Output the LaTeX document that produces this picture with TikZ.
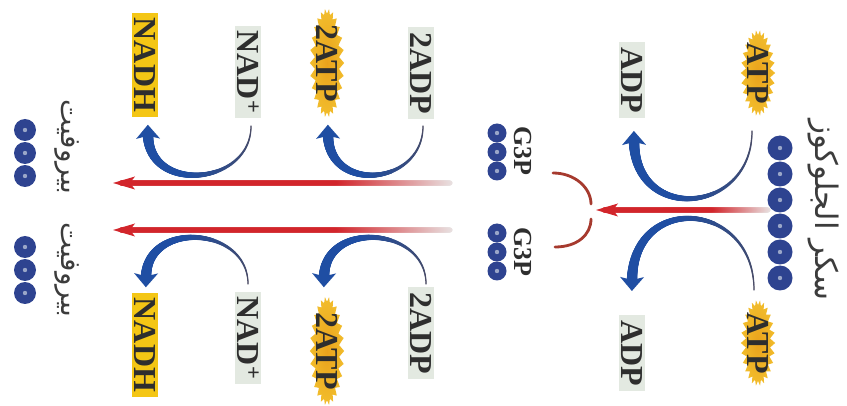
\documentclass[tikz,border=0pt]{standalone}
\usepackage{fontspec}
\setmainfont{Liberation Serif}
\newfontfamily\arabicfont[Script=Arabic]{DejaVu Sans}
\TeXXeTstate=1
\usetikzlibrary{shapes.symbols,decorations.markings}
\definecolor{txtgray}{HTML}{2E2E2E}
\definecolor{boxgray}{HTML}{E3E9E1}
\definecolor{nadhyel}{HTML}{F4C615}
\definecolor{stargold}{HTML}{F2BD2C}
\definecolor{starcore}{HTML}{E9A21C}
\definecolor{arcblue}{HTML}{1F4EA3}
\definecolor{arcnavy}{HTML}{4A4A62}
\definecolor{arrred}{HTML}{D2252B}
\definecolor{fadegray}{HTML}{E8E0E0}
\definecolor{splitred}{HTML}{A63A2E}
\definecolor{dotblue}{HTML}{2E4390}
\definecolor{dotcore}{HTML}{9AA6C8}
\definecolor{arabgray}{HTML}{3C3C3C}
\tikzset{
  bluearc/.style={decorate, decoration={markings,
    mark=between positions 0 and 1 step 0.5pt with {%
      \pgfmathsetmacro{\tf}{\pgfkeysvalueof{/pgf/decoration/mark info/distance from start}/\pgfdecoratedpathlength}%
      \pgfmathsetmacro{\tr}{0.6+4.8*\tf*(0.55+0.45*\tf)}%
      \pgfmathtruncatemacro{\tc}{min(100,160*\tf)}%
      \fill[arcblue!\tc!arcnavy] (0pt,0pt) circle[radius=\tr pt];}}},
  bluehead/.style={decorate, decoration={markings,
      mark=at position 0.995 with {\fill[arcblue] (10pt,0pt) -- (-4pt,12pt) -- (-1pt,0pt) -- (-4pt,-12pt) -- cycle;}}},
  redline/.style={decorate, decoration={markings,
    mark=between positions 0 and 1 step 0.5pt with {%
      \pgfmathsetmacro{\tf}{\pgfkeysvalueof{/pgf/decoration/mark info/distance from start}/\pgfdecoratedpathlength}%
      \pgfmathtruncatemacro{\tc}{min(100,285*\tf)}%
      \fill[arrred!\tc!fadegray] (0pt,0pt) circle[radius=2.6pt];}}},
  redhead/.style={decorate, decoration={markings,
      mark=at position 1 with {\fill[arrred] (8pt,0pt) -- (-14pt,6.5pt) -- (-9pt,0pt) -- (-14pt,-6.5pt) -- cycle;}}},
  splitc/.style={draw=splitred, line width=2.8pt, line cap=round},
  lab/.style={rotate=-90, text=txtgray, font=\fontsize{32}{34}\selectfont\bfseries, inner xsep=5pt, inner ysep=2pt},
  graybox/.style={lab, fill=boxgray},
  nadhbox/.style={lab, fill=nadhyel},
  starbox/.style={lab, starburst, starburst points=26, starburst point height=5pt, random starburst=0, inner color=starcore, outer color=stargold, inner xsep=-4pt, inner ysep=-2pt},
  g3plab/.style={lab, font=\fontsize{26}{28}\selectfont\bfseries, inner sep=0pt},
  arab/.style={rotate=-90, text=arabgray, font=\arabicfont\fontsize{28}{30}\selectfont, inner sep=0pt},
  bead/.style={circle, fill=dotblue, inner sep=0pt, minimum size=#1, path picture={\fill[dotcore] (path picture bounding box.center) circle[radius=2.2pt];}}
}
% tapered blue curved arrow between two named coordinates
\newcommand{\glyarc}[3]{%
  \path[bluearc] (#1) .. controls +(0,#3) and +(0,#3) .. (#2);
  \path[bluehead] (#1) .. controls +(0,#3) and +(0,#3) .. (#2);}
% fading red straight arrow between two named coordinates
\newcommand{\glyred}[2]{%
  \path[redline] (#1) -- (#2);
  \path[redhead] (#1) -- (#2);}
\begin{document}
\begin{tikzpicture}[x=1pt,y=-1pt]
\useasboundingbox (0,0) rectangle (847,406);
\fill[white] (0,0) rectangle (847,406);

% ---------- glucose stage ----------
\node[arab, font=\arabicfont\fontsize{31}{33}\selectfont] (glc) at (823,210) {\beginR سكر الجلوكوز\endR};
\foreach \i/\y in {1/148,2/174,3/200,4/226,5/252,6/278}
  \node[bead=25pt] (gl\i) at (780,\y) {};
\node[starbox] (atp1) at (758,73) {ATP};
\node[starbox] (atp2) at (758,343) {ATP};
\node[graybox] (adp1) at (632,80) {ADP};
\node[graybox] (adp2) at (632,353) {ADP};
\coordinate (a1s) at (752,131);
\coordinate (a1e) at (634,140);
\coordinate (a2s) at (754,290);
\coordinate (a2e) at (632,282);
\glyarc{a1s}{a1e}{84}
\glyarc{a2s}{a2e}{-90}
\coordinate (r0s) at (768,210);
\coordinate (r0e) at (604,210);
\glyred{r0s}{r0e}

% ---------- split ----------
\coordinate (sp1a) at (553,173);
\coordinate (sp1b) at (591,204);
\coordinate (sp2a) at (555,247);
\coordinate (sp2b) at (591,219);
\draw[splitc] (sp1a) .. controls +(22,0) and +(0,-16) .. (sp1b);
\draw[splitc] (sp2a) .. controls +(22,0) and +(0,16) .. (sp2b);

% ---------- G3P ----------
\node[g3plab] (g3p1) at (523,151) {G3P};
\node[g3plab] (g3p2) at (523,252) {G3P};
\foreach \i/\y in {1/133,2/152,3/171}
  \node[bead=19pt] (ga\i) at (497,\y) {};
\foreach \i/\y in {1/233,2/252,3/271}
  \node[bead=19pt] (gb\i) at (497,\y) {};

% ---------- pyruvate stage ----------
\node[graybox] (adp3) at (421,73) {2ADP};
\node[graybox] (adp4) at (421,333) {2ADP};
\node[starbox] (atp3) at (327,63) {2ATP};
\node[starbox] (atp4) at (327,351) {2ATP};
\node[graybox] (nad1) at (248,72) {NAD\textsuperscript{+}};
\node[graybox] (nad2) at (248,338) {NAD\textsuperscript{+}};
\node[nadhbox] (nadh1) at (145,65) {NADH};
\node[nadhbox] (nadh2) at (145,345) {NADH};

\coordinate (b1s) at (423,126);
\coordinate (b1e) at (328,134);
\coordinate (b2s) at (251,126);
\coordinate (b2e) at (148,134);
\coordinate (b3s) at (426,284);
\coordinate (b3e) at (324,278);
\coordinate (b4s) at (248,284);
\coordinate (b4e) at (146,278);
\glyarc{b1s}{b1e}{60}
\glyarc{b2s}{b2e}{60}
\glyarc{b3s}{b3e}{-58}
\glyarc{b4s}{b4e}{-58}

\coordinate (r1s) at (450,183);
\coordinate (r1e) at (121,183);
\coordinate (r2s) at (450,230);
\coordinate (r2e) at (121,230);
\glyred{r1s}{r1e}
\glyred{r2s}{r2e}

\node[arab] (pyr1) at (67,147) {\beginR بيروفيت\endR};
\node[arab] (pyr2) at (67,270) {\beginR بيروفيت\endR};
\foreach \i/\y in {1/130,2/153,3/176}
  \node[bead=22pt] (pa\i) at (25,\y) {};
\foreach \i/\y in {1/247,2/270,3/293}
  \node[bead=22pt] (pb\i) at (25,\y) {};
\end{tikzpicture}
\end{document}
